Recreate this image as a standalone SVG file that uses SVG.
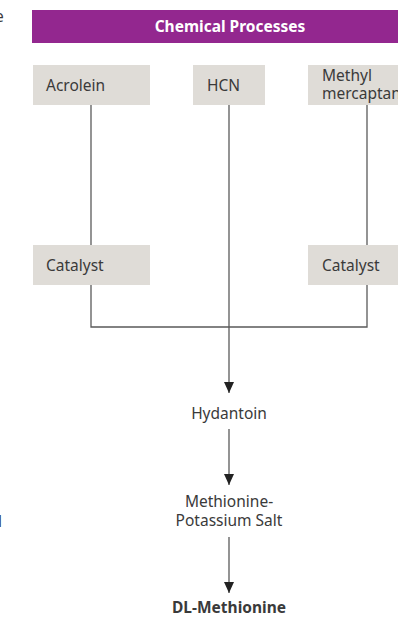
<svg xmlns="http://www.w3.org/2000/svg" width="398" height="618" viewBox="0 0 398 618">
<style>
.box{fill:#dfdcd7}
.t{font-family:"Noto Sans","Open Sans",sans-serif;font-size:15.5px;fill:#3a3a3a}
.title{font-family:"Noto Sans","Open Sans",sans-serif;font-size:15.5px;font-weight:bold;fill:#ffffff}
.ln{stroke:#5a5a5a;stroke-width:1.3;fill:none}
.mid{text-anchor:middle}
</style>
<defs>
<marker id="ah" markerWidth="11" markerHeight="10" refX="11" refY="5" orient="auto" markerUnits="userSpaceOnUse" viewBox="0 0 11 10">
<path d="M0,0 L11,5 L0,10 Z" fill="#222"/>
</marker>
</defs>
<rect width="398" height="618" fill="#ffffff"/>
<text class="t" x="-5" y="22">e</text>
<text class="t" x="-2" y="527">l</text>
<g id="header">
<rect x="32" y="10" width="366" height="33" fill="#93278f"/>
<text class="title mid" x="230" y="32">Chemical Processes</text>
</g>
<g id="connectors">
<path class="ln" d="M91,105 V245"/>
<path class="ln" d="M367,105 V245" stroke="#777"/>
<path class="ln" d="M91,285 V327 H367 V285"/>
<path class="ln" d="M229,105 V393" marker-end="url(#ah)"/>
<path class="ln" d="M229,429 V485" marker-end="url(#ah)"/>
<path class="ln" d="M229,537 V593" marker-end="url(#ah)"/>
</g>
<g id="acrolein">
<rect class="box" x="33" y="65" width="117" height="40"/>
<text class="t" x="46" y="91">Acrolein</text>
</g>
<g id="hcn">
<rect class="box" x="193" y="65" width="72" height="40"/>
<text class="t" x="207" y="91">HCN</text>
</g>
<g id="methyl-mercaptan">
<rect class="box" x="308" y="65" width="92" height="40"/>
<text class="t" x="322" y="81">Methyl</text>
<text class="t" x="322" y="99">mercaptan</text>
</g>
<g id="catalyst-left">
<rect class="box" x="33" y="245" width="117" height="40"/>
<text class="t" x="46" y="271">Catalyst</text>
</g>
<g id="catalyst-right">
<rect class="box" x="308" y="245" width="92" height="40"/>
<text class="t" x="322" y="271">Catalyst</text>
</g>
<g id="hydantoin">
<text class="t mid" x="229" y="419">Hydantoin</text>
</g>
<g id="methionine-potassium-salt">
<text class="t mid" x="229" y="507">Methionine-</text>
<text class="t mid" x="229" y="526">Potassium Salt</text>
</g>
<g id="dl-methionine">
<text class="t mid" x="229" y="613" font-weight="bold" fill="#111">DL-Methionine</text>
</g>
</svg>
